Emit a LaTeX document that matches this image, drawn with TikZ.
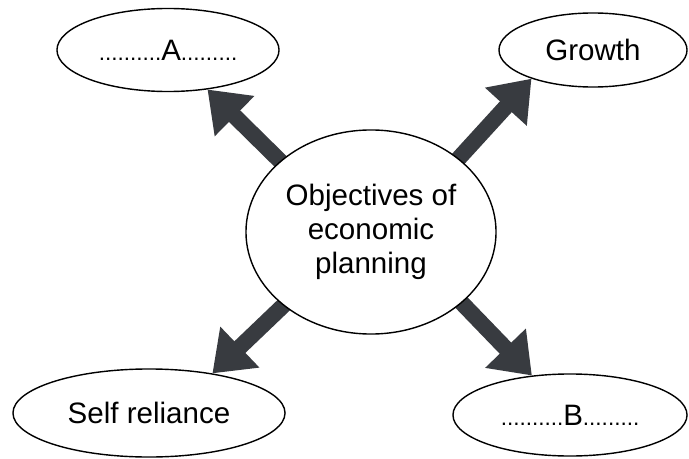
\documentclass[tikz,border=0pt]{standalone}
\usepackage{fontspec}
\setmainfont{Liberation Sans}
\usetikzlibrary{shapes.geometric,arrows.meta,backgrounds}
\definecolor{arrowgray}{HTML}{383B40}
\newcommand{\blankdots}[1]{{\fontsize{16}{18}\selectfont #1}}
\tikzset{
  bubble/.style={draw, ellipse, fill=white, line width=1pt, inner sep=0pt,
    align=center, font=\fontsize{21}{24}\selectfont},
  bigarrow/.style={draw=arrowgray, line width=0.4cm, shorten <=-0.3cm,
    -{Triangle[length=0.95cm, width=1.35cm, color=arrowgray]}}
}
\begin{document}
\begin{tikzpicture}[x=0.025cm, y=-0.025cm]
\useasboundingbox (0,0) rectangle (689,459);
% draw nodes
\node[bubble, minimum width=6.25cm, minimum height=5.1cm] (obj) at (371,232) {Objectives of\\economic\\planning};
\node[bubble, minimum width=5.55cm, minimum height=2.075cm] (a) at (168,50) {\blankdots{..........}A\blankdots{.........}};
\node[bubble, minimum width=4.7cm, minimum height=1.85cm] (g) at (593,50) {Growth};
\node[bubble, minimum width=6.8cm, minimum height=2.2cm] (s) at (149,413) {Self reliance};
\node[bubble, minimum width=5.85cm, minimum height=2.05cm] (b) at (570,415) {\blankdots{..........}B\blankdots{.........}};
% draw arrows
\begin{scope}[on background layer]
\foreach \from/\to in {obj.142/a.-45, obj.40/g.205, obj.220/s.32, obj.-38/b.134}
\draw[bigarrow] (\from) -- (\to);
\end{scope}
\end{tikzpicture}
\end{document}
